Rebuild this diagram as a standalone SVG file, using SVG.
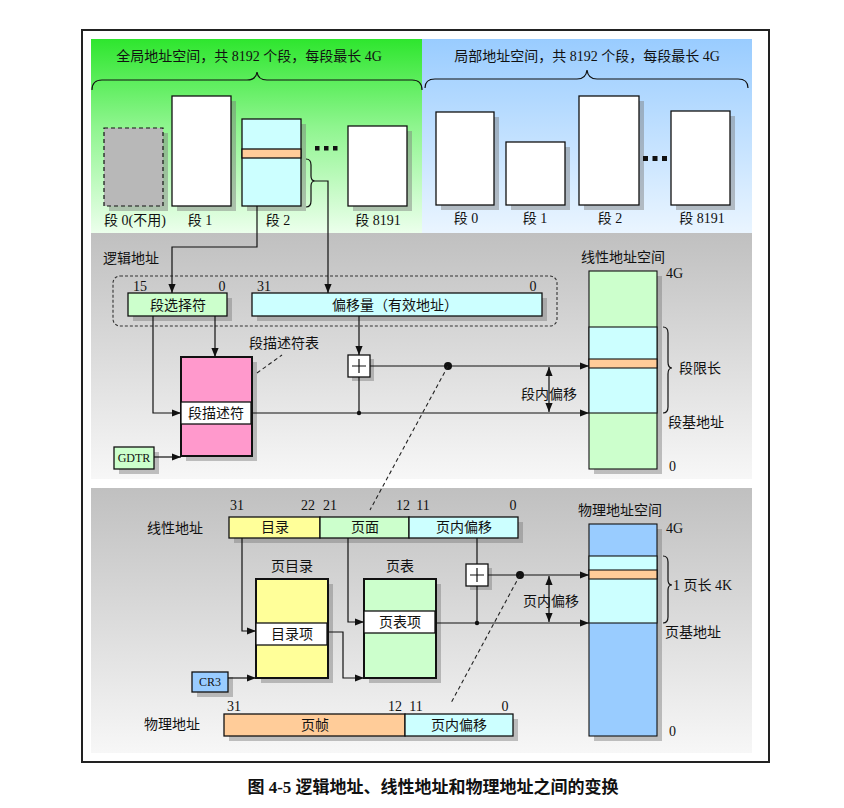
<svg xmlns="http://www.w3.org/2000/svg" width="844" height="808" viewBox="0 0 844 808">
<style>
text{font-family:"Liberation Serif","Noto Sans CJK SC",serif;font-size:14px;fill:#111;dominant-baseline:central}
.c{text-anchor:middle}
.n{font-size:14px}
.b{stroke:#111;stroke-width:1.3}
.tb{stroke:#111;stroke-width:2}
.sh{fill:#7a7a7a;opacity:.45}
.ln{fill:none;stroke:#111;stroke-width:1.2}
.ar{marker-end:url(#ah)}
.da{marker-start:url(#ah);marker-end:url(#ah)}
.dash{fill:none;stroke:#222;stroke-width:1.1;stroke-dasharray:4,3}
.br{fill:none;stroke:#111;stroke-width:1.2}
</style>
<defs>
<linearGradient id="gG" x1="0" y1="0" x2="0" y2="1"><stop offset="0" stop-color="#2ee62e"/><stop offset="0.45" stop-color="#8ef58e"/><stop offset="1" stop-color="#ecffec"/></linearGradient>
<linearGradient id="gB" x1="0" y1="0" x2="0" y2="1"><stop offset="0" stop-color="#99ccff"/><stop offset="1" stop-color="#eaf5ff"/></linearGradient>
<linearGradient id="gR" x1="0" y1="0" x2="0" y2="1"><stop offset="0" stop-color="#c0c0c0"/><stop offset="1" stop-color="#f7f7f7"/></linearGradient>
<marker id="ah" viewBox="0 0 10 10" refX="10" refY="5" markerWidth="9" markerHeight="9" markerUnits="userSpaceOnUse" orient="auto-start-reverse"><path d="M0,1 L10,5 L0,9 z" fill="#111"/></marker>
</defs>
<rect x="0" y="0" width="844" height="808" fill="#fff"/>
<rect x="82" y="30" width="687" height="732" fill="#fff" stroke="#222" stroke-width="2"/>
<g id="panels">
<rect x="91" y="39" width="331" height="194" fill="url(#gG)"/>
<rect x="422" y="39" width="330" height="194" fill="url(#gB)"/>
<rect x="91" y="233" width="661" height="246" fill="url(#gR)"/>
<rect x="91" y="488" width="661" height="265" fill="url(#gR)"/>
</g>
<g id="global-space">
<text class="c" x="249" y="56">全局地址空间，共 8192 个段，每段最长 4G</text>
<path class="br" d="M92,90 Q92,80 102,80 L247,80 Q256,80 257,72 Q258,80 267,80 L412,80 Q422,80 422,90"/>
<rect class="sh" x="109" y="133" width="59" height="78"/>
<rect x="104" y="128" width="59" height="78" fill="#b8b8b8" stroke="#111" stroke-width="1.2" stroke-dasharray="4,3"/>
<rect class="sh" x="177" y="101" width="59" height="110"/>
<rect class="b" x="172" y="96" width="59" height="110" fill="#fff"/>
<rect class="sh" x="247" y="124" width="59" height="87"/>
<rect class="b" x="242" y="119" width="59" height="87" fill="#ccffff"/>
<rect class="b" x="242" y="149" width="59" height="9" fill="#ffcc99"/>
<path class="br" d="M306,159 Q311,159 311,165 L311,176 Q311,181 315,181 Q311,181 311,186 L311,201 Q311,207 306,207"/>
<rect x="315" y="146" width="4.5" height="4.5" fill="#111"/>
<rect x="324" y="146" width="4.5" height="4.5" fill="#111"/>
<rect x="333" y="146" width="4.5" height="4.5" fill="#111"/>
<rect class="sh" x="353" y="131" width="59" height="80"/>
<rect class="b" x="348" y="126" width="59" height="80" fill="#fff"/>
<text class="c" x="135" y="220">段 0(不用)</text>
<text class="c" x="200" y="220">段 1</text>
<text class="c" x="278" y="220">段 2</text>
<text class="c" x="378" y="220">段 8191</text>
</g>
<g id="local-space">
<text class="c" x="587" y="56">局部地址空间，共 8192 个段，每段最长 4G</text>
<path class="br" d="M425,88 Q425,79 435,79 L577,79 Q586,79 587,70 Q588,79 597,79 L738,79 Q748,79 748,88"/>
<rect class="sh" x="441" y="117" width="58" height="93"/>
<rect class="b" x="436" y="112" width="58" height="93" fill="#fff"/>
<rect class="sh" x="511" y="147" width="59" height="63"/>
<rect class="b" x="506" y="142" width="59" height="63" fill="#fff"/>
<rect class="sh" x="584" y="101" width="60" height="109"/>
<rect class="b" x="579" y="96" width="60" height="109" fill="#fff"/>
<rect x="643" y="156" width="5" height="5" fill="#111"/>
<rect x="652.5" y="156" width="5" height="5" fill="#111"/>
<rect x="662" y="156" width="5" height="5" fill="#111"/>
<rect class="sh" x="676" y="116" width="59" height="94"/>
<rect class="b" x="671" y="111" width="59" height="94" fill="#fff"/>
<text class="c" x="466" y="218">段 0</text>
<text class="c" x="535" y="218">段 1</text>
<text class="c" x="610" y="218">段 2</text>
<text class="c" x="702" y="218">段 8191</text>
</g>
<g id="logical-address">
<text x="103" y="258">逻辑地址</text>
<rect x="113" y="276" width="444" height="50" rx="7" fill="none" stroke="#333" stroke-width="1.1" stroke-dasharray="3,2"/>
<text class="c n" x="140" y="286">15</text>
<text class="c n" x="222" y="286">0</text>
<text class="c n" x="264" y="286">31</text>
<text class="c n" x="533" y="286">0</text>
</g>
<g id="selector">
<rect class="sh" x="133" y="298" width="99" height="23"/>
<rect class="b" x="128" y="293" width="99" height="23" fill="#ccffcc"/>
<text class="c" x="178" y="305">段选择符</text>
</g>
<g id="offset">
<rect class="sh" x="257" y="298" width="290" height="23"/>
<rect class="b" x="252" y="293" width="290" height="23" fill="#ccffff"/>
<text class="c" x="395" y="305">偏移量（有效地址）</text>
</g>
<g id="descriptor-table">
<rect class="sh" x="186" y="362" width="71" height="99"/>
<rect class="tb" x="181" y="357" width="71" height="99" fill="#ff99cc"/>
<rect class="b" x="181" y="402" width="70" height="22" fill="#fff"/>
<text class="c" x="216" y="413">段描述符</text>
<text class="c" x="284" y="343">段描述符表</text>
<path class="dash" d="M257,373 L282,355"/>
</g>
<g id="gdtr">
<rect class="sh" x="119" y="452" width="40" height="22"/>
<rect class="b" x="114" y="447" width="40" height="22" fill="#ccffcc"/>
<text class="c" x="134" y="458" style="font-size:12px">GDTR</text>
</g>
<g id="adder1">
<rect class="sh" x="352" y="359" width="22" height="22"/>
<rect class="b" x="348" y="355" width="22" height="22" fill="#fff"/>
<path d="M352,366 L366,366 M359,359 L359,373" stroke="#111" stroke-width="1.2"/>
</g>
<g id="linear-space">
<text class="c" x="623" y="257">线性地址空间</text>
<rect class="sh" x="594" y="276" width="68" height="198"/>
<rect x="589" y="271" width="68" height="198" fill="#ccffcc" stroke="#111" stroke-width="1.1"/>
<rect x="589" y="327" width="68" height="86" fill="#ccffff" stroke="#111" stroke-width="1.1"/>
<rect x="589" y="359" width="68" height="9" fill="#ffcc99" stroke="#111" stroke-width="1.1"/>
<text class="n" x="666" y="273">4G</text>
<text class="n" x="669" y="466">0</text>
<path class="br" d="M663,327 Q668,327 668,333 L668,362 Q668,368 672,368 Q668,368 668,374 L668,407 Q668,413 663,413"/>
<text x="679" y="368">段限长</text>
<text x="668" y="422">段基地址</text>
<text class="c" x="549" y="394">段内偏移</text>
</g>
<g id="linear-address">
<text class="c" x="175" y="528">线性地址</text>
<text class="c n" x="237" y="505">31</text>
<text class="c n" x="308" y="505">22</text>
<text class="c n" x="330" y="505">21</text>
<text class="c n" x="403" y="505">12</text>
<text class="c n" x="423" y="505">11</text>
<text class="c n" x="513" y="505">0</text>
<rect class="sh" x="234" y="522" width="289" height="21"/>
<rect class="b" x="229" y="517" width="91" height="21" fill="#ffff99"/>
<rect class="b" x="320" y="517" width="89" height="21" fill="#ccffcc"/>
<rect class="b" x="409" y="517" width="109" height="21" fill="#ccffff"/>
<text class="c" x="275" y="527.5">目录</text>
<text class="c" x="365" y="527.5">页面</text>
<text class="c" x="464" y="527.5">页内偏移</text>
</g>
<g id="page-directory">
<text class="c" x="292" y="566">页目录</text>
<rect class="sh" x="261" y="584" width="72" height="99"/>
<rect class="tb" x="256" y="579" width="72" height="99" fill="#ffff99"/>
<rect class="b" x="256" y="623" width="71" height="22" fill="#fff"/>
<text class="c" x="292" y="634">目录项</text>
</g>
<g id="page-table">
<text class="c" x="400" y="566">页表</text>
<rect class="sh" x="369" y="584" width="72" height="99"/>
<rect class="tb" x="364" y="579" width="72" height="99" fill="#ccffcc"/>
<rect class="b" x="364" y="611" width="71" height="22" fill="#fff"/>
<text class="c" x="400" y="622">页表项</text>
</g>
<g id="cr3">
<rect class="sh" x="197" y="677" width="36" height="20"/>
<rect class="b" x="192" y="672" width="36" height="20" fill="#99ccff"/>
<text class="c" x="210" y="682" style="font-size:12px">CR3</text>
</g>
<g id="adder2">
<rect class="sh" x="470" y="568" width="22" height="22"/>
<rect class="b" x="466" y="564" width="22" height="22" fill="#fff"/>
<path d="M470,575 L484,575 M477,568 L477,582" stroke="#111" stroke-width="1.2"/>
</g>
<g id="physical-space">
<text class="c" x="620" y="510">物理地址空间</text>
<rect class="sh" x="594" y="529" width="68" height="212"/>
<rect x="589" y="524" width="68" height="212" fill="#99ccff" stroke="#111" stroke-width="1.1"/>
<rect x="589" y="556" width="68" height="67" fill="#ccffff" stroke="#111" stroke-width="1.1"/>
<rect x="589" y="570" width="68" height="9" fill="#ffcc99" stroke="#111" stroke-width="1.1"/>
<text class="n" x="666" y="528">4G</text>
<text class="n" x="669" y="731">0</text>
<path class="br" d="M663,556 Q668,556 668,562 L668,580 Q668,585 672,585 Q668,585 668,590 L668,617 Q668,623 663,623"/>
<text x="673" y="585">1 页长 4K</text>
<text x="665" y="632">页基地址</text>
<text class="c" x="551" y="601">页内偏移</text>
</g>
<g id="physical-address">
<text class="c" x="172" y="724">物理地址</text>
<text class="c n" x="234" y="706">31</text>
<text class="c n" x="395" y="706">12</text>
<text class="c n" x="416" y="706">11</text>
<text class="c n" x="505" y="706">0</text>
<rect class="sh" x="229" y="719" width="289" height="22"/>
<rect class="b" x="224" y="714" width="181" height="22" fill="#ffcc99"/>
<rect class="b" x="405" y="714" width="108" height="22" fill="#ccffff"/>
<text class="c" x="315" y="725">页帧</text>
<text class="c" x="459" y="725">页内偏移</text>
</g>
<g id="connectors">
<path class="ln ar" d="M257,206 L257,247 L172,247 L172,293"/>
<path class="ln ar" d="M315,181 L328,181 L328,293"/>
<path class="ln ar" d="M215,316 L215,357"/>
<path class="ln ar" d="M153,316 L153,413 L181,413"/>
<path class="ln ar" d="M154,457 L181,457"/>
<path class="ln ar" d="M359,316 L359,355"/>
<path class="ln ar" d="M370,366 L589,366"/>
<path class="ln" d="M359,377 L359,413"/>
<path class="ln ar" d="M252,413 L589,413"/>
<path class="ln da" d="M549,367 L549,412"/>
<circle cx="448" cy="366" r="4" fill="#111"/>
<circle cx="359" cy="413" r="2.2" fill="#111"/>
<path class="dash" d="M448,366 L370,510"/>
<path class="ln ar" d="M242,538 L242,631 L256,631"/>
<path class="ln ar" d="M348,538 L348,622 L364,622"/>
<path class="ln ar" d="M328,632 L343,632 L343,678 L364,678"/>
<path class="ln ar" d="M228,678 L256,678"/>
<path class="ln" d="M477,538 L477,564"/>
<path class="ln ar" d="M488,575 L589,575"/>
<path class="ln" d="M477,586 L477,623"/>
<path class="ln ar" d="M436,623 L589,623"/>
<path class="ln da" d="M549,576 L549,622"/>
<circle cx="520" cy="575" r="4" fill="#111"/>
<circle cx="477" cy="623" r="2.2" fill="#111"/>
<path class="dash" d="M520,575 L451,703"/>
</g>
<text class="c" x="433" y="787" style="font-size:17px;font-weight:bold">图 4-5 逻辑地址、线性地址和物理地址之间的变换</text>
</svg>
